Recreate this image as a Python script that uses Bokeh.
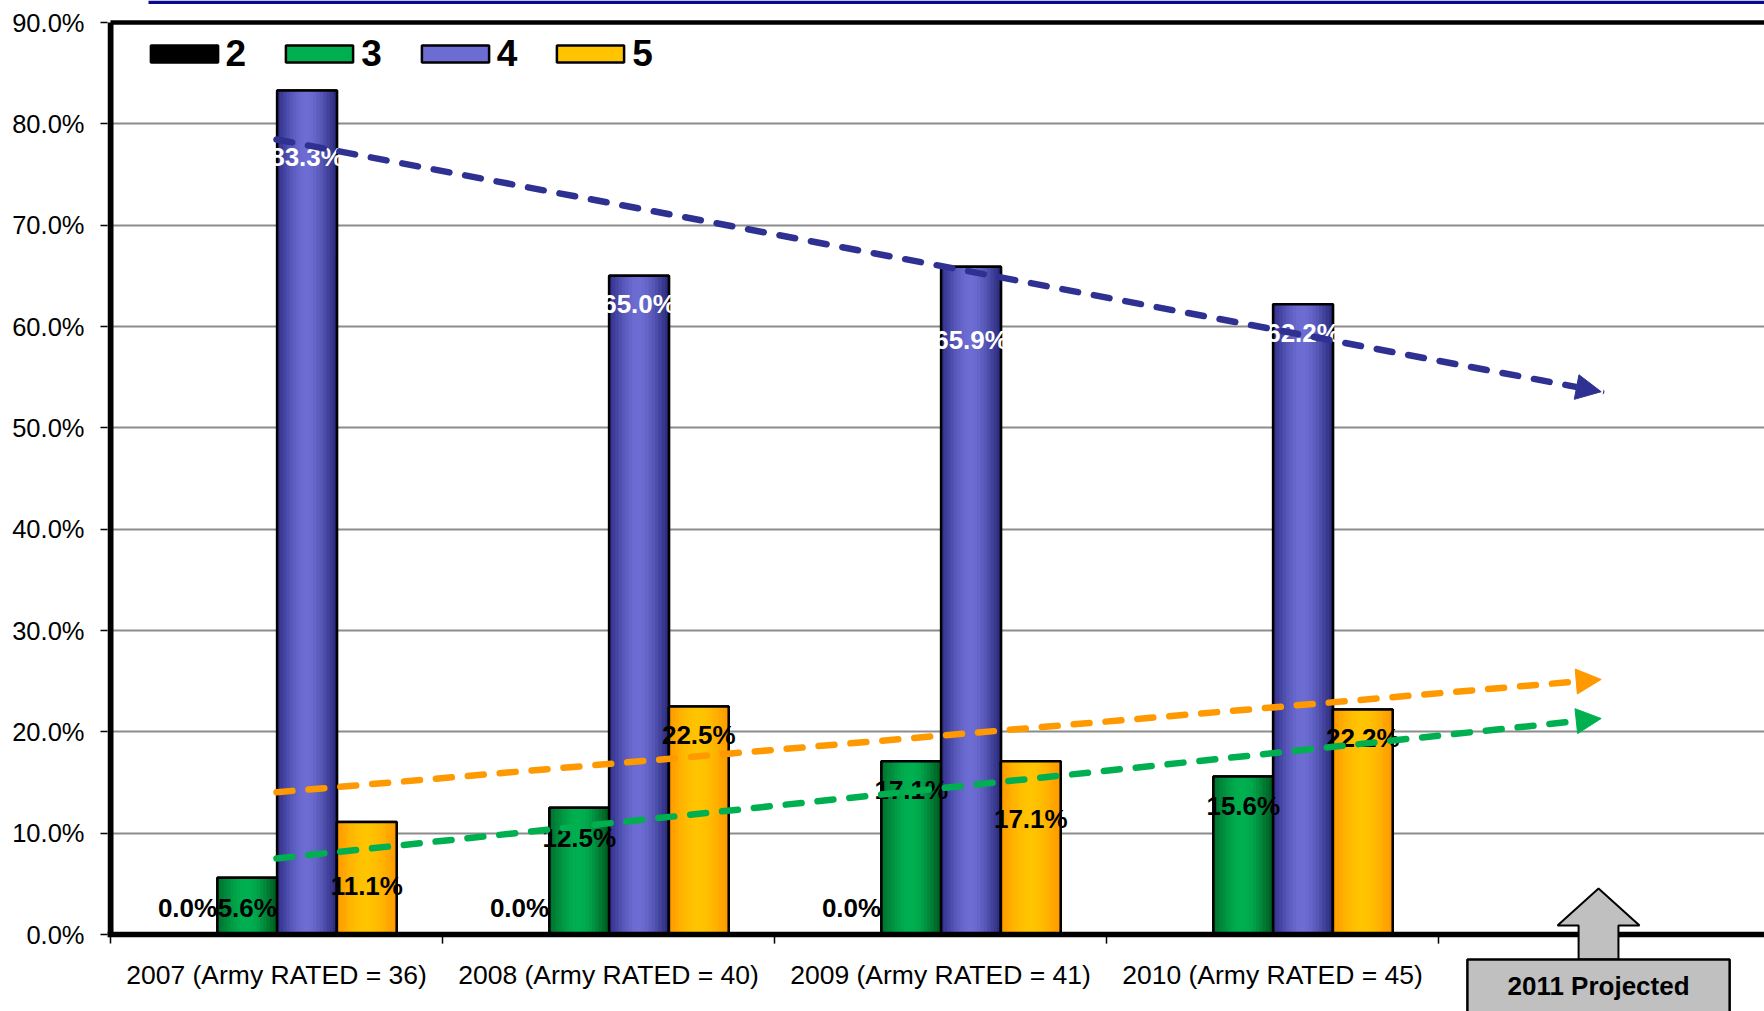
import math
import numpy as np
from bokeh.plotting import figure
from bokeh.models import (Range1d, FixedTicker, PrintfTickFormatter, Legend,
                          LegendItem, Arrow, NormalHead, ColumnDataSource)
from bokeh.core.properties import value
from bokeh.embed import file_html
from bokeh.resources import INLINE

# ---------------- data ----------------
categories = ["2007 (Army RATED = 36)", "2008 (Army RATED = 40)",
              "2009 (Army RATED = 41)", "2010 (Army RATED = 45)"]
series_names = ["2", "3", "4", "5"]
values_2 = [0.0, 0.0, 0.0, float("nan")]
values_3 = [5.6, 12.5, 17.1, 15.6]
values_4 = [83.3, 65.0, 65.9, 62.2]
values_5 = [11.1, 22.5, 17.1, 22.2]
y_ticks = [0, 10, 20, 30, 40, 50, 60, 70, 80, 90]
projected_label = "2011 Projected"

# vertical placement of the data labels (in % units)
label_y_2 = [2.57, 2.57, 2.57, float("nan")]
label_y_3 = [2.57, 9.52, 14.29, 12.65]
label_y_4 = [76.76, 62.24, 58.70, 59.39]
label_y_5 = [4.75, 19.64, 11.40, 19.44]

# ---------------- layout ----------------
W, H = 1764, 1011
FRAME_LEFT = 107
ZERO_X = 110
PX_PER_CAT = 332.0
Y0_PX, Y90_PX = 934.0, 22.0
px_per_pct = (Y0_PX - Y90_PX) / 90.0
x_start = (FRAME_LEFT - ZERO_X) / PX_PER_CAT
x_end = x_start + (W - FRAME_LEFT) / PX_PER_CAT
y_end = 90 + Y90_PX / px_per_pct
y_start = -(H - Y0_PX) / px_per_pct

FONT = "Liberation Sans"

p = figure(width=W, height=H, output_backend="svg", toolbar_location=None,
           x_range=Range1d(x_start, x_end), y_range=Range1d(y_start, y_end),
           x_axis_location=None, y_axis_location="left",
           min_border_left=FRAME_LEFT, min_border_right=0,
           min_border_top=0, min_border_bottom=0)
p.outline_line_color = None
p.background_fill_color = "white"
p.border_fill_color = "white"
p.xgrid.visible = False
p.ygrid.ticker = FixedTicker(ticks=y_ticks[1:-1])
p.ygrid.grid_line_color = "#8c8c8c"
p.ygrid.grid_line_width = 2

yax = p.yaxis[0]
yax.ticker = FixedTicker(ticks=y_ticks)
yax.formatter = PrintfTickFormatter(format="%.1f%%")
yax.axis_line_color = None
yax.major_tick_out = 7
yax.major_tick_in = 0
yax.major_tick_line_color = "black"
yax.major_tick_line_width = 1.5
yax.minor_tick_line_color = None
yax.major_label_text_font = FONT
yax.major_label_text_font_size = "25.5px"
yax.major_label_text_color = "black"
yax.major_label_standoff = 16

n_cat = len(categories)
group_start = 0.142
bar_w = 0.18
series_values = [values_2, values_3, values_4, values_5]
label_ys = [label_y_2, label_y_3, label_y_4, label_y_5]
label_colors = ["black", "black", "white", "black"]
grad = [
    ("#000000", "#000000", "#000000"),
    ("#00702E", "#00B050", "#005C22"),
    ("#30308A", "#6C6CD2", "#2B2B7E"),
    ("#FF9A00", "#FFC400", "#FF9A00"),
]


def hex2rgb(h):
    h = h.lstrip("#")
    return [int(h[i:i + 2], 16) for i in (0, 2, 4)]


def mix(c1, c2, t):
    a, b = hex2rgb(c1), hex2rgb(c2)
    return "#%02x%02x%02x" % tuple(int(round(a[k] + (b[k] - a[k]) * t)) for k in range(3))


legend_items = []
N = 18
for s, vals in enumerate(series_values):
    xc = np.array([c + group_start + bar_w * (s + 0.5) for c in range(n_cat)])
    tops = np.array(vals, dtype=float)
    src = ColumnDataSource(dict(x=xc, top=tops))
    left_c, mid_c, right_c = grad[s]
    base = p.vbar(x="x", top="top", bottom=0, width=bar_w, source=src,
                  fill_color=mid_c, line_color="black", line_width=2.5)
    legend_items.append(LegendItem(label=series_names[s], renderers=[base]))
    if s > 0:
        for i in range(N):
            u = (i + 0.5) / N
            w = math.sin(math.pi * u) ** 1.2
            col = mix(left_c if u < 0.5 else right_c, mid_c, w)
            p.vbar(x=xc + (u - 0.5) * bar_w, top=tops, bottom=0,
                   width=bar_w / N * 1.35, fill_color=col, line_color=None)
    p.vbar(x="x", top="top", bottom=0, width=bar_w, source=src,
           fill_color=None, line_color="black", line_width=2.5)

# data labels
for s, vals in enumerate(series_values):
    xs, ys, txt = [], [], []
    for c in range(n_cat):
        v = vals[c]
        if v is None or (isinstance(v, float) and math.isnan(v)):
            continue
        xs.append(c + group_start + bar_w * (s + 0.5))
        ys.append(label_ys[s][c])
        txt.append("%.1f%%" % v)
    p.text(x=xs, y=ys, text=txt, text_font=value(FONT), text_font_size="26px",
           text_font_style="bold", text_color=label_colors[s],
           text_align="center", text_baseline="middle")

# frame lines
p.segment(x0=[0], y0=[0], x1=[0], y1=[90], line_color="black", line_width=6)
p.segment(x0=[0], y0=[90], x1=[x_end], y1=[90], line_color="black", line_width=4.5)
p.segment(x0=[-0.01], y0=[0], x1=[x_end], y1=[0], line_color="black", line_width=5.5)
xt = list(range(0, n_cat + 2))
p.segment(x0=xt, y0=[0] * len(xt), x1=xt, y1=[-0.9] * len(xt),
          line_color="black", line_width=1.5)

# header rule on top
p.segment(x0=[0.1145], y0=[92.0], x1=[x_end], y1=[92.0], line_color="#0A0A90", line_width=3.5)

# category labels
p.text(x=[c + 0.5 for c in range(n_cat)], y=[-3.95] * n_cat, text=categories,
       text_font=value(FONT), text_font_size="26.5px", text_color="black",
       text_align="center", text_baseline="middle")

# "2011 Projected" callout
cx = n_cat + 0.482
sh, hh = 0.060, 0.1235
box_top = -2.467
p.patch(x=[cx - sh, cx - sh, cx - hh, cx, cx + hh, cx + sh, cx + sh],
        y=[box_top, 0.888, 0.888, 4.54, 0.888, 0.888, box_top],
        fill_color="#C0C0C0", line_color="black", line_width=2)
p.quad(left=[cx - 0.395], right=[cx + 0.395], top=[box_top], bottom=[-9],
       fill_color="#C0C0C0", line_color="black", line_width=2.5)
p.text(x=[cx], y=[-5.1], text=[projected_label], text_font=value(FONT),
       text_font_size="26px", text_font_style="bold", text_color="black",
       text_align="center", text_baseline="middle")

# trend arrows (linear fits extended one period)
idx = np.arange(1, n_cat + 1)
for s, color in [(1, "#00B050"), (3, "#FF9900"), (2, "#2E3192")]:
    m, b = np.polyfit(idx, np.array(series_values[s], dtype=float), 1)
    p.add_layout(Arrow(x_start=0.5, y_start=m * 1 + b,
                       x_end=n_cat + 0.49, y_end=m * (n_cat + 0.99) + b,
                       line_color=color, line_width=6.5, line_dash="16 16",
                       line_cap="round",
                       end=NormalHead(size=25, fill_color=color, line_color=color,
                                      line_width=1)))

legend = Legend(items=legend_items, orientation="horizontal",
                location=(34.6, 936.5), padding=0, margin=0, spacing=31,
                glyph_width=84, glyph_height=21, label_standoff=0,
                label_text_font=FONT, label_text_font_size="37px",
                label_text_font_style="bold", label_text_color="black",
                border_line_color=None, background_fill_alpha=0)
p.add_layout(legend)

open("out.html", "w").write(file_html(p, INLINE))
